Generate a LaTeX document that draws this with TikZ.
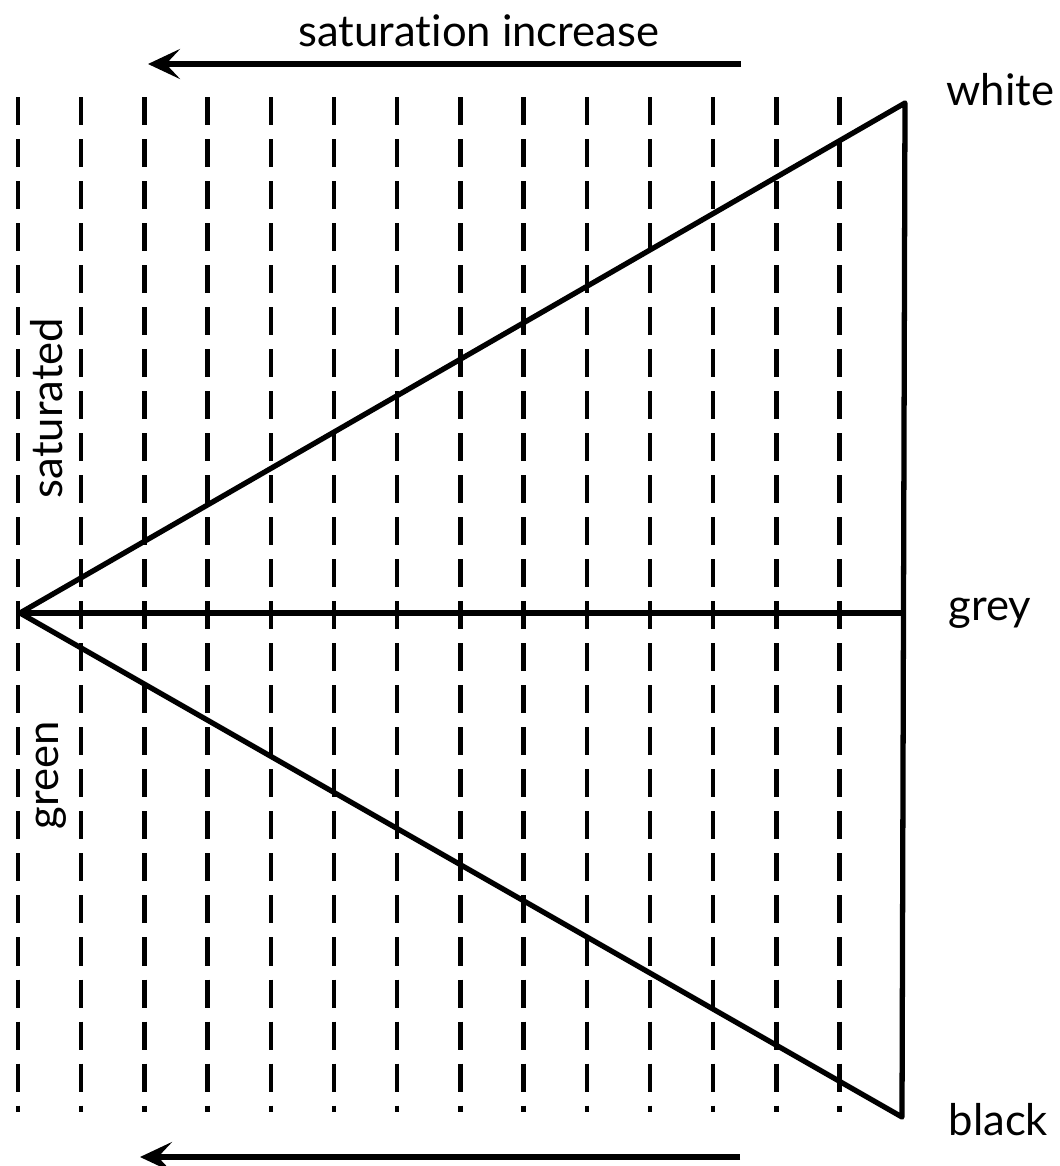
\documentclass[tikz,border=0pt]{standalone}
\usepackage{fontspec}
\setmainfont{Lato}[Ligatures=NoCommon]
\usetikzlibrary{arrows.meta}

\begin{document}
\begin{tikzpicture}[x=0.01cm, y=-0.01cm,
	every node/.style={font=\fontsize{12.4}{15}\selectfont, inner sep=0pt},
	>={Stealth[length=3.2mm, width=3mm, inset=1.4mm]},
	guide/.style={line width=1.3pt, dash pattern=on 2.8mm off 1.4mm},
	edge/.style={line width=1.5pt, line join=round},
	flow/.style={->, line width=1.7pt}]
	\useasboundingbox (0,0) rectangle (1059,1166);
	% lines of equal saturation
	\foreach \i in {0,...,13}
		\draw[guide] (18+63.2*\i,97) -- (18+63.2*\i,1112);
	% the triangle green - white - black and the grey axis
	\coordinate (green) at (20,613);
	\coordinate (white) at (905,103);
	\coordinate (black) at (902,1117);
	\coordinate (grey) at (904,613);
	\draw[edge] (green) -- (white) -- (black) -- cycle;
	\draw[edge] (green) -- (grey);
	\node[anchor=base west] (lwhite) at (946,105) {white};
	\node[anchor=base west] (lgrey) at (948,620) {grey};
	\node[anchor=base west] (lblack) at (948,1135) {black};
	\node[rotate=90, anchor=base] (lsat) at (62,408) {saturated};
	\node[rotate=90, anchor=base] (lgreen) at (58,775) {green};
	% saturation arrows
	\coordinate (top0) at (741,64);
	\coordinate (top1) at (148,64);
	\draw[flow] (top0) -- (top1);
	\node[anchor=base] (title) at (479,46) {saturation increase};
	\coordinate (bot0) at (740,1157);
	\coordinate (bot1) at (140,1157);
	\draw[flow] (bot0) -- (bot1);
\end{tikzpicture}
\end{document}
